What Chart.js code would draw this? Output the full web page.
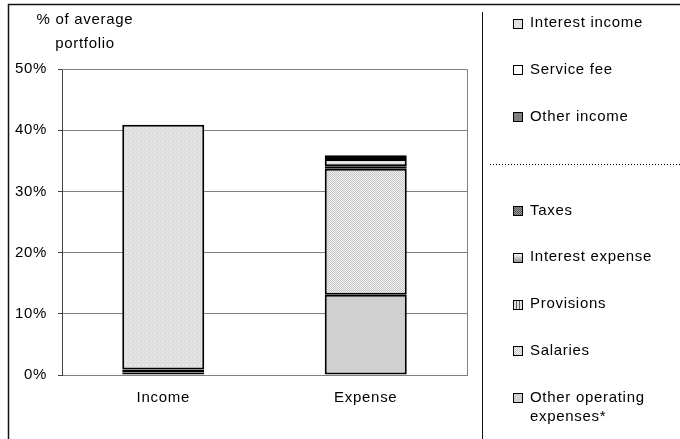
<!DOCTYPE html>
<html>
<head>
<meta charset="utf-8">
<script src="https://cdn.jsdelivr.net/npm/chart.js@4"></script>
<style>
  html, body { margin: 0; padding: 0; background: #fff; }
  #wrap { width: 680px; height: 439px; }
</style>
</head>
<body>
<div id="wrap"><canvas id="profit" width="680" height="439"></canvas></div>
<script>
const categories = ['Income', 'Expense'];
const otherIncome = [0.4, null];
const serviceFee = [0.5, null];
const interestIncome = [40.0, null];
const otherOperating = [null, 13.1];
const salaries = [null, 20.6];
const provisions = [null, 0.4];
const interestExpense = [null, 1.2];
const taxes = [null, 0.6];
const yTicks = [0, 10, 20, 30, 40, 50];

const FONT = "'Liberation Sans', Arial, sans-serif";
const SPACING = '0.7px';

function makePattern(w, h, draw) {
    let c = document.createElement('canvas');
    c.width = w;
    c.height = h;
    let g = c.getContext('2d');
    draw(g);
    return g.createPattern(c, 'repeat');
}

// fill textures
let speckle = makePattern(4, 4, g => {
    g.fillStyle = '#e2e2e2';
    g.fillRect(0, 0, 4, 4);
    g.fillStyle = '#d0d0d0';
    g.fillRect(0, 0, 1, 1);
    g.fillRect(2, 2, 1, 1);
    g.fillStyle = '#eeeeee';
    g.fillRect(2, 0, 1, 1);
});
let checker = makePattern(2, 2, g => {
    g.fillStyle = '#f4f4f4';
    g.fillRect(0, 0, 2, 2);
    g.fillStyle = '#c4c4c4';
    g.fillRect(0, 0, 1, 1);
    g.fillRect(1, 1, 1, 1);
});
let flatGrey = makePattern(4, 4, g => {
    g.fillStyle = '#d2d2d2';
    g.fillRect(0, 0, 4, 4);
    g.fillStyle = '#c8c8c8';
    g.fillRect(1, 1, 1, 1);
    g.fillRect(3, 3, 1, 1);
});
let stripes = makePattern(3, 3, g => {
    g.fillStyle = '#e0e0e0';
    g.fillRect(0, 0, 3, 3);
    g.fillStyle = '#606060';
    g.fillRect(0, 0, 1, 3);
});
let darkDots = makePattern(2, 2, g => {
    g.fillStyle = '#9a9a9a';
    g.fillRect(0, 0, 2, 2);
    g.fillStyle = '#555';
    g.fillRect(0, 0, 1, 1);
    g.fillRect(1, 1, 1, 1);
});

// shaded band for interest expense, grey at the edges and light in the middle
function bandShade(context) {
    let chart = context.chart;
    let ys = chart.scales.y;
    if (!ys || context.dataIndex === undefined) return '#c8c8c8';
    let i = context.dataIndex;
    let base = 0;
    for (let d = 0; d < context.datasetIndex; d++) {
        base += chart.data.datasets[d].data[i] || 0;
    }
    let v = chart.data.datasets[context.datasetIndex].data[i] || 0;
    let top = ys.getPixelForValue(base + v);
    let bot = ys.getPixelForValue(base);
    if (!isFinite(top) || !isFinite(bot) || top === bot) return '#c8c8c8';
    let grad = chart.ctx.createLinearGradient(0, top, 0, bot);
    grad.addColorStop(0, '#8a8a8a');
    grad.addColorStop(0.45, '#f4f4f4');
    grad.addColorStop(1, '#9a9a9a');
    return grad;
}

function series(label, data, fill, group) {
    return {
        label: label,
        data: data,
        backgroundColor: fill,
        borderColor: '#000',
        borderWidth: 2,
        borderSkipped: false,
        group: group
    };
}

let datasets = [
    series('Other income', otherIncome, '#808080', 'income'),
    series('Service fee', serviceFee, '#ffffff', 'income'),
    series('Interest income', interestIncome, speckle, 'income'),
    series('Other operating expenses*', otherOperating, flatGrey, 'expense'),
    series('Salaries', salaries, checker, 'expense'),
    series('Provisions', provisions, stripes, 'expense'),
    series('Interest expense', interestExpense, bandShade, 'expense'),
    series('Taxes', taxes, darkDots, 'expense')
];

let spacing = {
    id: 'spacing',
    beforeLayout(chart) { chart.ctx.letterSpacing = SPACING; },
    beforeDraw(chart) { chart.ctx.letterSpacing = SPACING; }
};

// frame, plot border, axis caption and the side legend
let decor = {
    id: 'decor',
    afterDraw(chart) {
        let ctx = chart.ctx;
        let area = chart.chartArea;
        ctx.save();
        ctx.letterSpacing = SPACING;

        ctx.strokeStyle = '#808080';
        ctx.lineWidth = 1;
        ctx.beginPath();
        ctx.moveTo(area.left, area.top + 0.5);
        ctx.lineTo(area.right + 0.5, area.top + 0.5);
        ctx.lineTo(area.right + 0.5, area.bottom);
        ctx.stroke();

        ctx.strokeStyle = '#111';
        ctx.lineWidth = 1.5;
        ctx.beginPath();
        ctx.moveTo(8.5, 439);
        ctx.lineTo(8.5, 4.5);
        ctx.lineTo(680, 4.5);
        ctx.stroke();

        ctx.lineWidth = 1;
        ctx.beginPath();
        ctx.moveTo(482.5, 12);
        ctx.lineTo(482.5, 439);
        ctx.stroke();

        ctx.fillStyle = '#000';
        ctx.font = '15px ' + FONT;
        ctx.textAlign = 'center';
        ctx.textBaseline = 'middle';
        ctx.fillText('% of average', 85, 20);
        ctx.fillText('portfolio', 85, 44);

        let ds = chart.data.datasets;
        let entries = [];
        ds.filter(d => d.group === 'income').reverse().forEach(d => entries.push(d));
        entries.push(null);
        ds.filter(d => d.group === 'expense').reverse().forEach(d => entries.push(d));

        ctx.textAlign = 'left';
        entries.forEach((d, k) => {
            let cy = 23 + k * 46.85;
            if (d === null) {
                ctx.save();
                ctx.setLineDash([1, 2]);
                ctx.strokeStyle = '#000';
                ctx.beginPath();
                ctx.moveTo(490, Math.round(cy) + 0.5);
                ctx.lineTo(680, Math.round(cy) + 0.5);
                ctx.stroke();
                ctx.restore();
                return;
            }
            let sx = 513.5, sy = Math.round(cy - 4.5) + 0.5;
            if (typeof d.backgroundColor === 'function') {
                let g = ctx.createLinearGradient(0, sy, 0, sy + 9);
                g.addColorStop(0, '#ffffff');
                g.addColorStop(1, '#8a8a8a');
                ctx.fillStyle = g;
            } else {
                ctx.fillStyle = d.backgroundColor;
            }
            ctx.fillRect(sx, sy, 9, 9);
            ctx.strokeStyle = '#000';
            ctx.lineWidth = 1;
            ctx.strokeRect(sx, sy, 9, 9);

            // wrap long names onto a second line
            ctx.fillStyle = '#000';
            let words = d.label.split(' ');
            let lines = [];
            let line = '';
            words.forEach(w => {
                let test = line ? line + ' ' + w : w;
                if (line && ctx.measureText(test).width > 145) {
                    lines.push(line);
                    line = w;
                } else {
                    line = test;
                }
            });
            lines.push(line);
            lines.forEach((t, j) => {
                ctx.fillText(t, 530, cy + j * 19);
            });
        });
        ctx.restore();
    }
};

let profitCtx = document.getElementById('profit').getContext('2d');
let profitChart = new Chart(profitCtx, {
    type: 'bar',
    data: {
        labels: categories,
        datasets: datasets
    },
    options: {
        responsive: false,
        animation: false,
        layout: {
            padding: { left: 0, top: 69, right: 213, bottom: 0 }
        },
        categoryPercentage: 1,
        barPercentage: 0.405,
        plugins: {
            legend: { display: false },
            tooltip: { enabled: false }
        },
        scales: {
            x: {
                stacked: true,
                grid: { display: false },
                border: { color: '#808080' },
                ticks: {
                    color: '#000',
                    padding: 6,
                    font: { family: FONT, size: 15 }
                },
                afterFit(scale) { scale.height = 64; }
            },
            y: {
                stacked: true,
                min: 0,
                max: 50,
                afterBuildTicks(scale) {
                    scale.ticks = yTicks.map(v => ({ value: v }));
                },
                grid: {
                    color: '#808080',
                    tickLength: 4,
                    tickColor: '#404040'
                },
                border: { color: '#404040', width: 1 },
                ticks: {
                    color: '#000',
                    padding: 11,
                    font: { family: FONT, size: 15 },
                    callback: v => v + '%'
                },
                afterFit(scale) { scale.width = 62; }
            }
        }
    },
    plugins: [spacing, decor]
});
</script>
</body>
</html>
